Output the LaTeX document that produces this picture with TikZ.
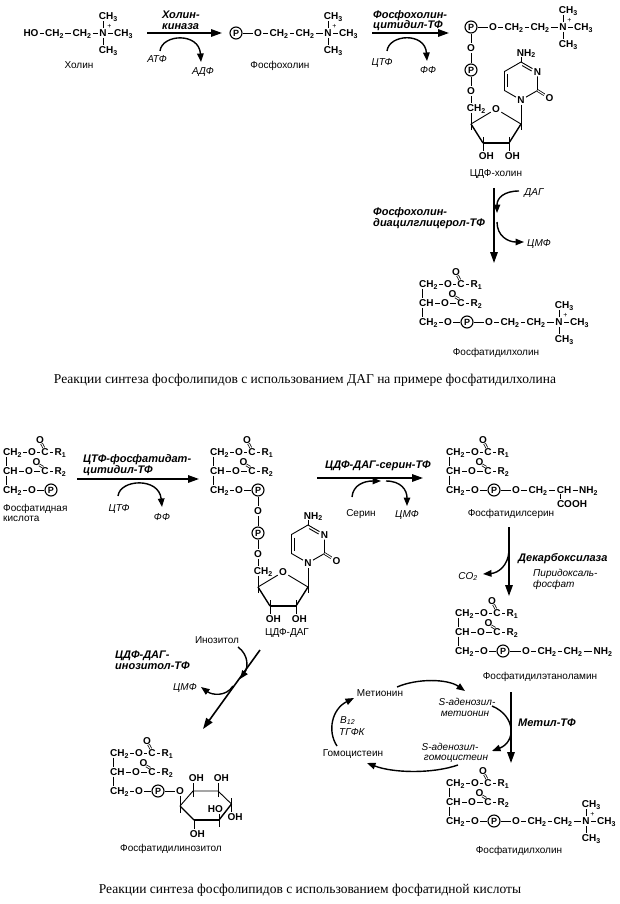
\documentclass[tikz,border=0pt]{standalone}
\usepackage{fontspec}
\setmainfont{Liberation Serif}
\setsansfont{Liberation Sans}
\usetikzlibrary{arrows.meta}
\newcommand\chsub[1]{\textsubscript{#1}}
\tikzset{
 atom/.style={font=\sffamily\bfseries\fontsize{10}{10}\selectfont, inner sep=1.2pt, text height=7.2pt, text depth=0pt},
 pcirc/.style={circle, draw, line width=1.1pt, minimum size=12pt, inner sep=0pt, font=\sffamily\bfseries\fontsize{9}{9}\selectfont},
 plussign/.style={font=\sffamily\fontsize{7}{7}\selectfont, inner sep=0pt},
 bond/.style={line width=0.9pt},
 wbond/.style={line width=2pt},
 mbond/.style={line width=1.4pt},
 dbond/.style={line width=0.75pt, double distance=1.1pt},
 rarr/.style={line width=1.6pt, -{Triangle[length=11pt,width=7.5pt]}},
 carr/.style={line width=1.4pt, -{Triangle[length=8.5pt,width=6.5pt]}},
 lab/.style={font=\sffamily\fontsize{10}{11}\selectfont, inner sep=0pt, text height=8pt, text depth=1.6pt},
 cof/.style={font=\sffamily\itshape\fontsize{10}{11}\selectfont, inner sep=0pt, text height=8pt, text depth=1.6pt},
 enz/.style={font=\sffamily\bfseries\itshape\fontsize{11}{11}\selectfont, inner sep=0pt, text height=8.5pt, text depth=1.5pt},
 captxt/.style={font=\rmfamily\fontsize{13.5}{15}\selectfont, inner sep=0pt, text height=10pt, text depth=2.5pt},
}
% glycerol diester: #1 prefix, (#2,#3) left of first CH2
\newcommand\mkglyc[3]{%
\begin{scope}[shift={(#2,#3)}]
\node[atom,anchor=west] (#1a1) at (-1.2,0) {CH\chsub{2}};
\node[atom] (#1o1) at (29,0) {O};
\node[atom] (#1c1) at (42,0) {C};
\node[atom] (#1r1) at (57.5,0) {R\chsub{1}};
\node[atom] (#1x1) at (37,-12) {O};
\node[atom,anchor=west] (#1a2) at (-1.2,19) {CH};
\node[atom] (#1o2) at (26,19) {O};
\node[atom] (#1c2) at (42,19) {C};
\node[atom] (#1r2) at (57.5,19) {R\chsub{2}};
\node[atom] (#1x2) at (33.5,9.7) {O};
\node[atom,anchor=west] (#1a3) at (-1.2,38) {CH\chsub{2}};
\node[atom] (#1o3) at (29,38) {O};
\node[pcirc] (#1p) at (48,38) {P};
\draw[bond] (#1a1) -- (#1o1) -- (#1c1) -- (#1r1);
\draw[bond] (#1a2) -- (#1o2) -- (#1c2) -- (#1r2);
\draw[bond] (#1a3) -- (#1o3) -- (#1p);
\draw[dbond] (40.8,-4.2) -- (38.6,-8.4);
\draw[dbond] (40.0,15.2) -- (36.4,13.0);
\draw[bond] (3.6,4.6) -- (3.6,14.4);
\draw[bond] (3.6,23.6) -- (3.6,33.4);
\end{scope}}
% choline head: #1 prefix, (#2,#3) P centre, #4 P node
\newcommand\mkchol[4]{%
\begin{scope}[shift={(#2,#3)}]
\node[atom] (#1o) at (22,0) {O};
\node[atom] (#1m1) at (43,0) {CH\chsub{2}};
\node[atom] (#1m2) at (69,0) {CH\chsub{2}};
\node[atom] (#1n) at (92,0) {N};
\node[atom] (#1me) at (112.5,0) {CH\chsub{3}};
\node[atom] (#1mu) at (97.3,-17) {CH\chsub{3}};
\node[atom] (#1md) at (97.3,17) {CH\chsub{3}};
\node[plussign] (#1pl) at (98.5,-6.5) {+};
\draw[bond] (#4) -- (#1o) -- (#1m1) -- (#1m2) -- (#1n) -- (#1me);
\draw[bond] (92,-4.8) -- (92,-12.2);
\draw[bond] (92,4.8) -- (92,12.2);
\end{scope}}
% serine head
\newcommand\mkser[4]{%
\begin{scope}[shift={(#2,#3)}]
\node[atom] (#1o) at (22,0) {O};
\node[atom] (#1m) at (44,0) {CH\chsub{2}};
\node[atom] (#1c) at (70,0) {CH};
\node[atom] (#1n) at (94.5,0) {NH\chsub{2}};
\node[atom,anchor=west] (#1co) at (61.6,13.5) {COOH};
\draw[bond] (#4) -- (#1o) -- (#1m) -- (#1c) -- (#1n);
\draw[bond] (66.4,4.4) -- (66.4,8.9);
\end{scope}}
% ethanolamine head
\newcommand\mketn[4]{%
\begin{scope}[shift={(#2,#3)}]
\node[atom] (#1o) at (23,0) {O};
\node[atom] (#1m1) at (44,0) {CH\chsub{2}};
\node[atom] (#1m2) at (70,0) {CH\chsub{2}};
\node[atom] (#1n) at (100,0) {NH\chsub{2}};
\draw[bond] (#4) -- (#1o) -- (#1m1) -- (#1m2) -- (#1n);
\end{scope}}
% CDP fragment below a P: #1 prefix, (#2,#3) P centre, #4 P node
\newcommand\mkcdp[4]{%
\begin{scope}[shift={(#2,#3)}]
\node[atom] (#1oa) at (0,21) {O};
\node[pcirc] (#1pb) at (0,43) {P};
\node[atom] (#1ob) at (0,64) {O};
\node[atom] (#1ch) at (5.4,81) {CH\chsub{2}};
\node[atom] (#1or) at (25,82) {O};
\node[atom] (#1n1) at (50,73) {N};
\node[atom] (#1n3) at (66.5,44.5) {N};
\node[atom] (#1oc) at (78.5,71) {O};
\node[atom] (#1nh) at (55.3,25.5) {NH\chsub{2}};
\node[atom] (#1h1) at (15.4,129) {OH};
\node[atom] (#1h2) at (41.4,129) {OH};
\draw[bond] (#4) -- (#1oa) -- (#1pb) -- (#1ob);
\draw[bond] (0,68.8) -- (0,76.2);
\draw[bond] (0,85.8) -- (0,103);
\draw[bond] (0,97) -- (#1or) -- (50,97);
\draw[mbond] (50,97) -- (38,116);
\draw[wbond] (38,116) -- (12,116);
\draw[mbond] (12,116) -- (0,97);
\draw[bond] (#1n1) -- (50,103);
\draw[bond] (12,110) -- (12,124.2);
\draw[bond] (38,110) -- (38,124.2);
\draw[bond] (#1n1) -- (66.5,63.5) -- (#1n3) -- (50,35) -- (33.5,44.5) -- (33.5,63.5) -- (#1n1);
\draw[bond] (36.2,47.5) -- (36.2,60.5);
\draw[bond] (51.2,38.6) -- (60.6,44.0);
\draw[dbond] (66.5,63.5) -- (#1oc);
\draw[bond] (50,35) -- (50,30.3);
\end{scope}}
\begin{document}
\begin{tikzpicture}[x=1pt,y=-1pt]
\useasboundingbox (0,0) rectangle (619,904);
% ---------- top part ----------
% choline
\node[atom] (ho) at (31,33) {HO};
\node[atom] (c1a) at (54.5,33) {CH\chsub{2}};
\node[atom] (c1b) at (82,33) {CH\chsub{2}};
\node[atom] (c1n) at (103,33) {N};
\node[atom] (c1r) at (123.5,33) {CH\chsub{3}};
\node[atom] (c1u) at (108.3,16) {CH\chsub{3}};
\node[atom] (c1d) at (108.3,50) {CH\chsub{3}};
\node[plussign] (c1p) at (109.5,26.5) {+};
\draw[bond] (ho) -- (c1a) -- (c1b) -- (c1n) -- (c1r);
\draw[bond] (c1n.north) -- (c1n.north |- c1u.south);
\draw[bond] (c1n.south) -- (c1n.south |- c1d.north);
\node[lab] (lchol) at (79,65) {Холин};
% phosphocholine
\node[pcirc] (pc) at (236,33) {P};
\mkchol{pch}{236}{33}{pc}
\node[lab] (lpch) at (280,65) {Фосфохолин};
% CDP-choline
\node[pcirc] (cc) at (471,27) {P};
\mkchol{cch}{471}{27}{cc}
\mkcdp{ccd}{471}{27}{cc}
\node[lab] (lcdpc) at (496,173) {ЦДФ-холин};
% phosphatidylcholine (top)
\mkglyc{ga}{419}{284}
\mkchol{gah}{467}{322}{gap}
\node[lab] (lpc1) at (496,352) {Фосфатидилхолин};
% reaction 1
\coordinate (r1s) at (147,33); \coordinate (r1e) at (222,33);
\draw[rarr] (r1s) -- (r1e);
\node[enz,anchor=west] (e1a) at (162,15) {Холин-};
\node[enz,anchor=west] (e1b) at (162,26) {киназа};
\node[cof] (atp) at (157,59) {АТФ};
\node[cof] (adp) at (203,71) {АДФ};
\draw[carr] (160,51) .. controls (162,34) and (199,32) .. (201,62);
% reaction 2
\coordinate (r2s) at (372,33); \coordinate (r2e) at (449,33);
\draw[rarr] (r2s) -- (r2e);
\node[enz,anchor=west] (e2a) at (373,15) {Фосфохолин-};
\node[enz,anchor=west] (e2b) at (373,25.5) {цитидил-ТФ};
\node[cof] (ctpa) at (382,62) {ЦТФ};
\node[cof] (ppa) at (428,70) {ФФ};
\draw[carr] (387,51) .. controls (389,34) and (425,32) .. (427,61);
% reaction 3
\coordinate (r3s) at (494,188); \coordinate (r3e) at (494,263);
\draw[rarr] (r3s) -- (r3e);
\node[enz,anchor=west] (e3a) at (373,212) {Фосфохолин-};
\node[enz,anchor=west] (e3b) at (373,223) {диацилглицерол-ТФ};
\node[cof] (dag) at (534,192) {ДАГ};
\node[cof] (cmpa) at (539,243) {ЦМФ};
\draw[carr] (519,191) .. controls (504,191) and (497,198) .. (497,213);
\draw[carr] (497,222) .. controls (497,236) and (508,242) .. (524,242);
\node[captxt] (cap1) at (305,380) {Реакции синтеза фосфолипидов с использованием ДАГ на примере фосфатидилхолина};
% ---------- bottom part ----------
% phosphatidic acid
\mkglyc{gb}{3}{452}
\node[lab,anchor=west] (lpa1) at (3,508) {Фосфатидная};
\node[lab,anchor=west] (lpa2) at (3,518.5) {кислота};
% CDP-DAG
\mkglyc{gc}{210}{452}
\mkcdp{gcd}{258}{490}{gcp}
\node[lab] (lcdpd) at (287,632) {ЦДФ-ДАГ};
% phosphatidylserine
\mkglyc{gd}{446}{452}
\mkser{gds}{494}{490}{gdp}
\node[lab] (lps) at (511,513) {Фосфатидилсерин};
% phosphatidylethanolamine
\mkglyc{ge}{455}{613}
\mketn{gee}{503}{651}{gep}
\node[lab] (lpe) at (540,676) {Фосфатидилэтаноламин};
% phosphatidylcholine (bottom)
\mkglyc{gf}{446}{783}
\mkchol{gfh}{494}{821}{gfp}
\node[lab] (lpc2) at (519,850) {Фосфатидилхолин};
% phosphatidylinositol
\mkglyc{gg}{110}{753}
\node[atom] (ipo) at (180,791) {O};
\draw[bond] (ggp) -- (ipo);
\draw[bond] (180,795.8) -- (180,813);
\draw[bond] (180,806) -- (193,791) -- (218,791) -- (231.5,804);
\draw[mbond] (231.5,804) -- (219,820);
\draw[wbond] (219,820) -- (194,820);
\draw[mbond] (194,820) -- (180,806);
\node[atom] (ioh1) at (196.4,778) {OH};
\node[atom] (ioh2) at (221.4,778) {OH};
\node[atom] (ioh3) at (235,817) {OH};
\node[atom] (ioh4) at (215.4,809) {HO};
\node[atom] (ioh5) at (197.4,833.5) {OH};
\draw[bond] (193,797) -- (193,782.8);
\draw[bond] (218,797) -- (218,782.8);
\draw[bond] (231.5,798) -- (231.5,812.2);
\draw[bond] (219,827) -- (219,813.8);
\draw[bond] (194,820) -- (194,828.7);
\node[lab] (lpi) at (171,848) {Фосфатидилинозитол};
% reaction 4
\coordinate (r4s) at (77,479); \coordinate (r4e) at (199,479);
\draw[rarr] (r4s) -- (r4e);
\node[enz,anchor=west] (e4a) at (83,459) {ЦТФ-фосфатидат-};
\node[enz,anchor=west] (e4b) at (83,469.5) {цитидил-ТФ};
\node[cof] (ctpb) at (119,508) {ЦТФ};
\node[cof] (ppb) at (162,517) {ФФ};
\draw[carr] (118,496) .. controls (120,479) and (159,477) .. (162,507);
% reaction 5
\coordinate (r5s) at (317,478); \coordinate (r5e) at (423,478);
\draw[rarr] (r5s) -- (r5e);
\node[enz] (e5) at (378,465) {ЦДФ-ДАГ-серин-ТФ};
\node[lab] (ser) at (361,513) {Серин};
\node[cof] (cmpb) at (407,514) {ЦМФ};
\draw[carr] (352,497) .. controls (353,485) and (364,481) .. (381,481);
\draw[carr] (386,481) .. controls (401,481) and (407,490) .. (407,506);
% reaction 6
\coordinate (r6s) at (509,527); \coordinate (r6e) at (509,596);
\draw[rarr] (r6s) -- (r6e);
\node[enz,anchor=west] (e6) at (518,558) {Декарбоксилаза};
\node[cof] (co2) at (468,576) {CO\chsub{2}};
\node[cof,anchor=west] (pyr1) at (533,573) {Пиридоксаль-};
\node[cof,anchor=west] (pyr2) at (533,584) {фосфат};
\draw[carr] (509,551) .. controls (508,566) and (498,573) .. (483,574);
% reaction 7
\coordinate (r7s) at (511,692); \coordinate (r7e) at (511,763);
\draw[rarr] (r7s) -- (r7e);
\node[enz,anchor=west] (e7) at (518,723) {Метил-ТФ};
\node[lab] (met) at (380,693) {Метионин};
\node[cof] (sam1) at (467,702) {S-аденозил-};
\node[cof] (sam2) at (465,713) {метионин};
\node[cof] (sah1) at (450,747) {S-аденозил-};
\node[cof] (sah2) at (456,757) {гомоцистеин};
\node[lab] (hcy) at (353,753) {Гомоцистеин};
\node[cof,anchor=west] (b12) at (340,720) {B\chsub{12}};
\node[cof,anchor=west] (thf) at (339,732) {ТГФК};
\draw[carr] (397,687) .. controls (418,678) and (448,679) .. (465,691);
\draw[carr] (492,706) .. controls (516,716) and (516,742) .. (492,751);
\draw[carr] (458,765) .. controls (432,774) and (393,773) .. (367,763);
\draw[carr] (337,746) .. controls (327,731) and (332,709) .. (354,698);
% reaction 8
\coordinate (r8s) at (260,650); \coordinate (r8e) at (203,729);
\draw[rarr] (r8s) -- (r8e);
\node[lab] (ino) at (217,640) {Инозитол};
\node[enz,anchor=west] (e8a) at (115,655) {ЦДФ-ДАГ-};
\node[enz,anchor=west] (e8b) at (115,665.5) {инозитол-ТФ};
\node[cof] (cmpc) at (185,687) {ЦМФ};
\draw[carr] (238,647) .. controls (249,655) and (248,668) .. (240,679);
\draw[carr] (233,686) .. controls (226,697) and (212,695) .. (201,687);
\node[captxt] (cap2) at (310,890) {Реакции синтеза фосфолипидов с использованием фосфатидной кислоты};
\end{tikzpicture}
\end{document}
